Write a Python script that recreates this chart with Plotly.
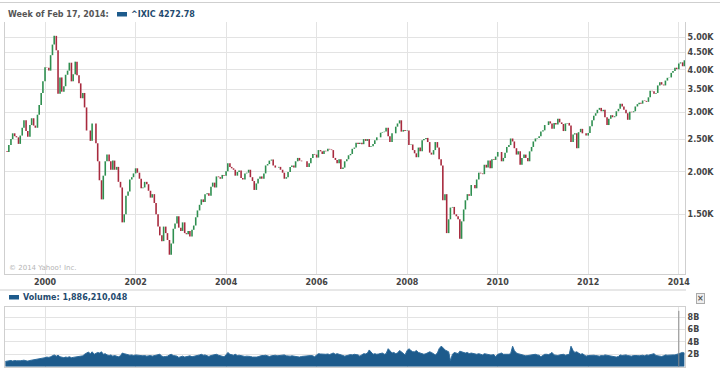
import pandas as pd
import plotly.graph_objects as go

# ---------------- data (semi-monthly readings of the chart) ----------------
START_DATE = "1999-02-15"
CLOSE_1999 = [2300, 2290, 2400, 2500, 2600, 2550, 2530, 2420, 2560, 2700, 2840, 2640, 2540, 2750, 2880, 2740, 2700, 2950, 3150, 3420, 3700]
CLOSE_2000 = [4069, 4060, 3980, 4420, 4750, 5040, 4570, 3400, 3800, 3450, 3580, 3870, 3980, 4200, 3700, 3880, 4230, 3860, 3650, 3300, 3420, 3100, 2650, 2650]
CLOSE_2001 = [2470, 2780, 2780, 2430, 2150, 1890, 1660, 1950, 2150, 2250, 2150, 2030, 2160, 2030, 2070, 1870, 1800, 1420, 1500, 1700, 1750, 1900, 1930, 1980]
CLOSE_2002 = [2050, 1990, 1910, 1790, 1800, 1870, 1840, 1760, 1680, 1720, 1620, 1500, 1380, 1300, 1250, 1380, 1320, 1260, 1140, 1230, 1360, 1410, 1480, 1370]
CLOSE_2003 = [1340, 1420, 1320, 1310, 1340, 1290, 1350, 1390, 1470, 1540, 1600, 1660, 1630, 1720, 1730, 1700, 1810, 1860, 1800, 1940, 1930, 1910, 1960, 1950]
CLOSE_2004 = [2010, 2120, 2070, 2050, 2030, 1950, 2000, 2020, 1920, 1900, 1980, 1990, 2030, 1930, 1880, 1770, 1850, 1910, 1940, 1910, 1980, 2090, 2110, 2160]
CLOSE_2005 = [2175, 2090, 2060, 2060, 2070, 2030, 1990, 1910, 1930, 2000, 2070, 2090, 2060, 2150, 2200, 2160, 2150, 2150, 2150, 2070, 2120, 2200, 2260, 2250]
CLOSE_2006 = [2205, 2320, 2300, 2260, 2310, 2300, 2340, 2330, 2320, 2200, 2170, 2120, 2180, 2040, 2060, 2150, 2180, 2240, 2260, 2340, 2360, 2440, 2420, 2440]
CLOSE_2007 = [2415, 2500, 2470, 2500, 2370, 2380, 2420, 2480, 2530, 2530, 2610, 2620, 2630, 2700, 2550, 2450, 2600, 2600, 2720, 2780, 2840, 2630, 2660, 2640]
CLOSE_2008 = [2652, 2400, 2410, 2320, 2270, 2210, 2360, 2300, 2480, 2500, 2520, 2450, 2280, 2250, 2320, 2450, 2360, 2180, 2090, 1650, 1720, 1320, 1450, 1570]
CLOSE_2009 = [1577, 1500, 1480, 1450, 1270, 1430, 1550, 1650, 1720, 1700, 1830, 1830, 1790, 1900, 1990, 1980, 1970, 2100, 2060, 2160, 2050, 2180, 2170, 2220]
CLOSE_2010 = [2290, 2290, 2150, 2200, 2280, 2370, 2400, 2510, 2460, 2350, 2250, 2300, 2100, 2200, 2250, 2200, 2150, 2300, 2370, 2460, 2510, 2520, 2550, 2630]
CLOSE_2011 = [2653, 2750, 2750, 2820, 2780, 2680, 2790, 2760, 2870, 2800, 2770, 2640, 2780, 2790, 2740, 2450, 2580, 2600, 2350, 2620, 2680, 2600, 2600, 2560]
CLOSE_2012 = [2605, 2730, 2840, 2930, 2980, 3050, 3090, 3020, 3050, 2900, 2750, 2870, 2940, 2900, 2920, 3020, 3070, 3180, 3120, 3050, 2980, 2850, 3010, 3000]
CLOSE_2013 = [3020, 3120, 3170, 3200, 3180, 3250, 3240, 3220, 3320, 3470, 3460, 3400, 3420, 3600, 3680, 3620, 3600, 3720, 3790, 3800, 3920, 3970, 4060, 4020]
CLOSE_2014 = [4177, 4210, 4100, 4273]

VOL_1999 = [0.85, 0.9, 0.95, 1.0, 0.9, 1.0, 0.95, 0.9, 0.95, 1.0, 1.05, 0.95, 0.9, 1.0, 1.05, 1.0, 1.1, 1.2, 1.25, 1.3, 1.35]
VOL_2000 = [1.45, 1.55, 1.5, 1.6, 1.75, 1.9, 1.7, 1.85, 1.6, 1.5, 1.45, 1.55, 1.5, 1.6, 1.45, 1.5, 1.55, 1.6, 1.7, 1.8, 1.75, 2.0, 2.2, 2.35]
VOL_2001 = [2.1, 2.4, 2.0, 2.1, 2.3, 2.2, 2.4, 2.0, 2.1, 1.9, 1.8, 1.9, 1.7, 1.8, 1.7, 1.6, 1.75, 2.2, 2.1, 2.0, 1.9, 1.85, 1.9, 1.8]
VOL_2002 = [1.9, 1.85, 1.9, 1.8, 1.75, 1.8, 1.7, 1.75, 1.8, 1.7, 1.75, 1.8, 1.9, 2.0, 1.7, 1.6, 1.65, 1.7, 1.9, 2.0, 1.8, 1.75, 1.7, 1.5]
VOL_2003 = [1.6, 1.7, 1.55, 1.6, 1.65, 1.75, 1.6, 1.65, 1.75, 1.85, 1.9, 2.0, 1.85, 1.9, 1.7, 1.65, 1.8, 1.9, 1.9, 2.0, 1.85, 1.8, 1.75, 1.6]
VOL_2004 = [1.9, 2.3, 2.0, 1.9, 1.85, 2.0, 1.8, 1.85, 1.75, 1.7, 1.65, 1.7, 1.7, 1.65, 1.55, 1.5, 1.55, 1.6, 1.75, 1.8, 1.8, 1.85, 1.75, 1.65]
VOL_2005 = [1.75, 1.8, 1.85, 1.75, 1.8, 1.75, 1.85, 1.9, 1.75, 1.7, 1.7, 1.75, 1.7, 1.65, 1.6, 1.55, 1.65, 1.7, 1.75, 1.8, 1.75, 1.8, 1.75, 1.6]
VOL_2006 = [1.9, 2.1, 2.05, 2.0, 1.95, 2.0, 2.05, 1.95, 2.1, 2.2, 2.0, 2.1, 2.0, 1.95, 1.8, 1.7, 1.8, 1.9, 1.95, 1.9, 2.0, 1.95, 1.9, 1.7]
VOL_2007 = [2.0, 2.1, 2.05, 2.2, 2.7, 2.3, 2.0, 2.1, 2.0, 2.05, 2.1, 2.2, 2.0, 2.1, 2.9, 2.6, 2.2, 2.3, 2.1, 2.2, 2.6, 2.4, 2.2, 1.9]
VOL_2008 = [2.6, 2.9, 2.6, 2.4, 2.4, 2.6, 2.3, 2.2, 2.1, 2.0, 2.1, 2.2, 2.4, 2.3, 2.1, 1.9, 2.2, 2.9, 3.3, 3.1, 2.7, 2.6, 2.4, 1.0]
VOL_2009 = [2.0, 2.3, 2.2, 2.1, 2.5, 2.4, 2.3, 2.2, 2.3, 2.1, 2.2, 2.1, 2.0, 2.0, 2.1, 2.0, 1.9, 2.1, 2.0, 2.0, 1.9, 1.9, 1.95, 1.6]
VOL_2010 = [2.0, 2.1, 2.2, 2.0, 2.0, 1.95, 2.0, 2.1, 3.3, 2.6, 2.2, 2.1, 2.0, 1.9, 1.8, 1.75, 1.8, 1.85, 1.9, 1.95, 2.0, 1.9, 1.85, 1.6]
VOL_2011 = [1.9, 2.0, 2.0, 1.95, 2.1, 2.3, 1.9, 1.85, 1.8, 1.9, 1.9, 2.0, 1.85, 1.9, 2.0, 3.3, 2.6, 2.3, 2.4, 2.2, 2.0, 2.1, 1.95, 1.7]
VOL_2012 = [1.8, 1.85, 1.9, 1.85, 1.8, 1.75, 1.7, 1.8, 1.75, 1.9, 1.85, 1.8, 1.7, 1.75, 1.6, 1.55, 1.65, 1.9, 1.8, 1.85, 1.9, 1.8, 1.75, 1.7]
VOL_2013 = [1.8, 1.85, 1.8, 1.75, 1.8, 1.85, 1.75, 1.9, 1.85, 1.9, 2.0, 2.1, 1.8, 1.75, 1.7, 1.65, 1.75, 1.9, 1.85, 1.9, 1.85, 1.9, 1.9, 1.95]
VOL_2014 = [2.1, 2.2, 2.3, 2.2]

YEAR_TICKS = ["2000", "2002", "2004", "2006", "2008", "2010", "2012", "2014"]
PRICE_TICKS = [1500, 2000, 2500, 3000, 3500, 4000, 4500, 5000]
PRICE_LABELS = ["1.50K", "2.00K", "2.50K", "3.00K", "3.50K", "4.00K", "4.50K", "5.00K"]
VOL_TICKS = [2, 4, 6, 8]
VOL_LABELS = ["2B", "4B", "6B", "8B"]

HEADER_DATE = "Week of Feb 17, 2014:"
HEADER_SYMBOL = "^IXIC 4272.78"
VOLUME_HEADER = "Volume: 1,886,210,048"

# ---------------- assemble ----------------
close = (CLOSE_1999 + CLOSE_2000 + CLOSE_2001 + CLOSE_2002 + CLOSE_2003 + CLOSE_2004 + CLOSE_2005 +
         CLOSE_2006 + CLOSE_2007 + CLOSE_2008 + CLOSE_2009 + CLOSE_2010 + CLOSE_2011 + CLOSE_2012 +
         CLOSE_2013 + CLOSE_2014)
volume = (VOL_1999 + VOL_2000 + VOL_2001 + VOL_2002 + VOL_2003 + VOL_2004 + VOL_2005 + VOL_2006 +
          VOL_2007 + VOL_2008 + VOL_2009 + VOL_2010 + VOL_2011 + VOL_2012 + VOL_2013 + VOL_2014)
dates = pd.date_range(START_DATE, periods=len(close), freq="SMS")
openp = [close[0]] + close[:-1]
high = [max(o, c) for o, c in zip(openp, close)]
low = [min(o, c) for o, c in zip(openp, close)]
vdates = dates[:len(volume)]

W, H = 720, 368
def px(x):
    return x / W
def py(y):
    return 1 - y / H

FONT = "DejaVu Sans"
GRID = "#e3e3e3"
FRAME = "#cfcfcf"
TXT = "#444444"
BLUE = "#1d5b8c"

fig = go.Figure()
fig.add_trace(go.Ohlc(
    x=dates, open=openp, high=high, low=low, close=close,
    increasing=dict(line=dict(color="#2f8f50", width=1.6)),
    decreasing=dict(line=dict(color="#a82a3e", width=1.6)),
    tickwidth=0, xaxis="x", yaxis="y", showlegend=False, hoverinfo="skip"))
fig.add_trace(go.Scatter(
    x=vdates, y=volume, mode="lines", fill="tozeroy",
    line=dict(color="#2f6c9c", width=1), fillcolor=BLUE,
    xaxis="x2", yaxis="y2", showlegend=False, hoverinfo="skip"))

xr = ["1999-02-12", "2014-02-20"]
tickvals = [f"{y}-01-01" for y in YEAR_TICKS]
xdom = [px(5), px(685)]

fig.update_layout(
    width=W, height=H, margin=dict(l=0, r=0, t=0, b=0, autoexpand=False),
    paper_bgcolor="white", plot_bgcolor="white",
    font=dict(family=FONT, size=8, color=TXT),
    xaxis=dict(domain=xdom, range=xr, type="date", tickvals=tickvals, ticktext=YEAR_TICKS,
               showgrid=True, gridcolor=GRID, showline=True, linecolor=FRAME, ticks="",
               tickfont=dict(family=FONT, size=8, color=TXT, weight="bold"),
               rangeslider=dict(visible=False), anchor="y", zeroline=False, automargin=False),
    yaxis=dict(domain=[py(274), py(22)], type="log", range=[3, 3.7433],
               tickvals=PRICE_TICKS, ticktext=PRICE_LABELS, side="right",
               showgrid=True, gridcolor=GRID, showline=True, mirror=True, linecolor=FRAME,
               ticks="", tickfont=dict(family=FONT, size=8, color=TXT, weight="bold"),
               anchor="x", zeroline=False, automargin=False),
    xaxis2=dict(domain=xdom, range=xr, type="date", tickvals=tickvals, showticklabels=False,
                showgrid=True, gridcolor=GRID, showline=True, mirror=True, linecolor=FRAME,
                ticks="", anchor="y2", zeroline=False, automargin=False),
    yaxis2=dict(domain=[py(366.7), py(306.5)], range=[0, 9.7],
                tickvals=VOL_TICKS, ticktext=VOL_LABELS, side="right",
                showgrid=True, gridcolor=GRID, showline=True, mirror=True, linecolor=FRAME,
                ticks="", tickfont=dict(family=FONT, size=8, color=TXT, weight="bold"),
                anchor="x2", zeroline=False, automargin=False),
)

shapes = [
    dict(type="line", xref="paper", yref="paper", x0=0, x1=1, y0=py(2.5), y1=py(2.5),
         line=dict(color=FRAME, width=1)),
    dict(type="line", xref="paper", yref="paper", x0=0, x1=px(686), y0=py(290), y1=py(290),
         line=dict(color=FRAME, width=1)),
    dict(type="rect", xref="paper", yref="paper", x0=px(117), x1=px(127), y0=py(16.5), y1=py(12),
         fillcolor=BLUE, line=dict(width=0)),
    dict(type="rect", xref="paper", yref="paper", x0=px(9), x1=px(19), y0=py(299.5), y1=py(295),
         fillcolor=BLUE, line=dict(width=0)),
    dict(type="line", xref="x2", yref="y2", x0="2014-01-01", x1="2014-01-01", y0=0, y1=9.0,
         line=dict(color="#8a8a8a", width=1)),
]
fig.update_layout(shapes=shapes)

ann = [
    dict(text=f"<b>{HEADER_DATE}</b>", x=px(6), y=py(14), xanchor="left", yanchor="middle",
         font=dict(family=FONT, size=8, color="#555555")),
    dict(text=f"<b>{HEADER_SYMBOL}</b>", x=px(129), y=py(14), xanchor="left", yanchor="middle",
         font=dict(family=FONT, size=8, color="#234a6e")),
    dict(text=f"<b>{VOLUME_HEADER}</b>", x=px(21), y=py(297), xanchor="left", yanchor="middle",
         font=dict(family=FONT, size=8, color="#234a6e")),
    dict(text="© 2014 Yahoo! Inc.", x=px(7), y=py(268), xanchor="left", yanchor="middle",
         font=dict(family=FONT, size=7, color="#b5b5b5")),
    dict(text="<b>×</b>", x=px(700), y=py(298), xanchor="center", yanchor="middle",
         font=dict(family=FONT, size=8, color="#555555"), bgcolor="#eeeeee",
         bordercolor="#aaaaaa", borderwidth=1, borderpad=0),
]
for a in ann:
    a.update(xref="paper", yref="paper", showarrow=False)
fig.update_layout(annotations=ann)

fig.write_html("out.html", config={"displayModeBar": False},
               post_script="document.body.style.margin='0';document.body.style.overflow='hidden';")
